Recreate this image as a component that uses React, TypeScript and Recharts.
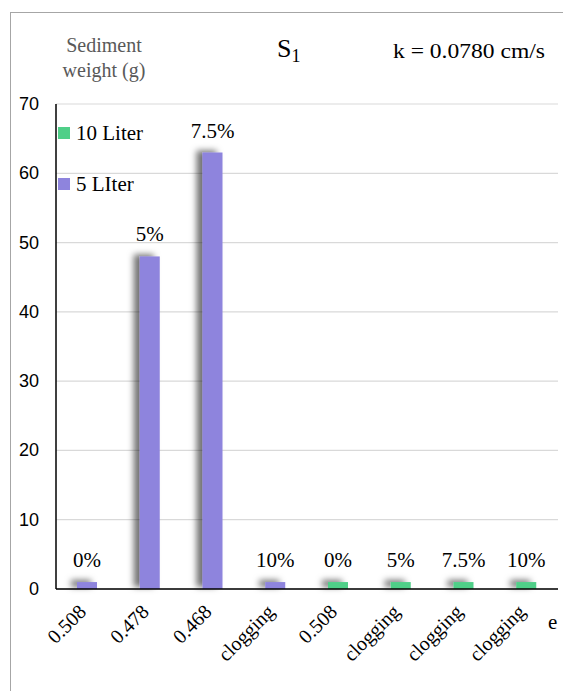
import React from 'react';
import { BarChart, Bar, XAxis, YAxis, CartesianGrid, LabelList, Legend } from 'recharts';

const categories = ['0.508', '0.478', '0.468', 'clogging', '0.508', 'clogging', 'clogging', 'clogging'];
const liter10 = [0, 0, 0, 0, 1, 1, 1, 1];
const liter5 = [1, 48, 63, 1, 0, 0, 0, 0];
const percentLabels = ['0%', '5%', '7.5%', '10%', '0%', '5%', '7.5%', '10%'];
const yTicks = [0, 10, 20, 30, 40, 50, 60, 70];
const seriesNames = ['10 Liter', '5 LIter'];

const GREEN = '#4FCF88';
const PURPLE = '#8E84DD';
const SERIF = '"Liberation Serif", "Times New Roman", serif';
const SANS = '"Liberation Sans", Arial, sans-serif';

const data = categories.map((c, i) => ({
  idx: i,
  cat: c,
  l10: liter10[i],
  l5: liter5[i],
  lab10: liter10[i] > 0 ? percentLabels[i] : '',
  lab5: liter5[i] > 0 ? percentLabels[i] : '',
}));

const BarShape = (props: any) => {
  const { x, y, width, height, fill } = props;
  if (!height || height <= 0) return null;
  return <rect x={x} y={y} width={width} height={height} fill={fill} filter="url(#barShadow)" />;
};

const BarLabel = (props: any) => {
  const { x, y, width, value } = props;
  if (!value) return null;
  return (
    <text x={x + width / 2} y={y - 15} textAnchor="middle" fontSize={21} fontFamily={SERIF} fill="#000">
      {value}
    </text>
  );
};

const XTick = (props: any) => {
  const { x, y, payload } = props;
  return (
    <g transform={`translate(${x},${y + 16})`}>
      <text x={0} y={0} textAnchor="end" transform="rotate(-45)" fontSize={20} fontFamily={SERIF} fill="#000">
        {categories[payload.value]}
      </text>
    </g>
  );
};

const YTick = (props: any) => {
  const { y, payload } = props;
  return (
    <text x={39} y={y + 6} textAnchor="end" fontSize={18} fontFamily={SANS} fill="#000">
      {payload.value}
    </text>
  );
};

const LegendContent = (props: any) => {
  const payload = props.payload || [];
  return (
    <div style={{ position: 'relative', height: 0 }}>
      {payload.map((p: any, i: number) => (
        <div key={i} style={{ position: 'absolute', left: 58, top: 126 + i * 51, display: 'flex', alignItems: 'center', whiteSpace: 'nowrap' }}>
          <span style={{ display: 'inline-block', width: 12, height: 12, background: p.color, marginRight: 6 }} />
          <span style={{ fontFamily: SERIF, fontSize: 21, lineHeight: '14px', color: '#000' }}>{p.value}</span>
        </div>
      ))}
    </div>
  );
};

export default function App() {
  return (
    <div style={{ position: 'absolute', left: 0, top: 0, width: 563, height: 691, background: '#fff', overflow: 'hidden' }}>
      <svg width={0} height={0} style={{ position: 'absolute' }}>
        <defs>
          <filter id="barShadow" x="-100%" y="-300%" width="300%" height="700%">
            <feDropShadow dx={-6} dy={-2} stdDeviation={3} floodColor="#000" floodOpacity={0.55} />
          </filter>
        </defs>
      </svg>
      <div style={{ position: 'absolute', left: 10, top: 12, width: 560, height: 690, borderLeft: '1.5px solid #a6a6a6', borderTop: '1.5px solid #a6a6a6' }} />
      <div style={{ position: 'absolute', left: 0, top: 0 }}>
        <BarChart width={563} height={691} data={data} margin={{ top: 104, right: 5, bottom: 0, left: 10 }} barSize={20}>
          <CartesianGrid horizontal vertical={false} stroke="#d9d9d9" strokeWidth={1.2} />
          <XAxis dataKey="idx" type="category" height={102} axisLine={{ stroke: '#000', strokeWidth: 1.5 }} tickLine={false} tick={<XTick />} interval={0} />
          <YAxis domain={[0, 70]} ticks={yTicks} width={46} axisLine={{ stroke: '#000', strokeWidth: 1.5 }} tickLine={false} tick={<YTick />} interval={0} />
          <Legend content={<LegendContent />} wrapperStyle={{ left: 0, top: 0, width: 563, height: 0 }} />
          <Bar dataKey="l10" name={seriesNames[0]} stackId="s" fill={GREEN} isAnimationActive={false} shape={<BarShape />}>
            <LabelList dataKey="lab10" content={<BarLabel />} />
          </Bar>
          <Bar dataKey="l5" name={seriesNames[1]} stackId="s" fill={PURPLE} isAnimationActive={false} shape={<BarShape />}>
            <LabelList dataKey="lab5" content={<BarLabel />} />
          </Bar>
        </BarChart>
      </div>
      <svg width={563} height={691} style={{ position: 'absolute', left: 0, top: 0, pointerEvents: 'none' }}>
        <text x={104} y={52} textAnchor="middle" fontSize={20} fontFamily={SERIF} fill="#595959">Sediment</text>
        <text x={104} y={77} textAnchor="middle" fontSize={20} fontFamily={SERIF} fill="#595959">weight (g)</text>
        <text x={277} y={57} fontSize={26} fontFamily={SERIF} fill="#000">
          S<tspan fontSize={18} dy={5}>1</tspan>
        </text>
        <text x={393} y={58} fontSize={20} fontFamily={SERIF} fill="#000" textLength={152} lengthAdjust="spacingAndGlyphs">k = 0.0780 cm/s</text>
        <text x={548} y={629} fontSize={21} fontFamily={SERIF} fill="#000">e</text>
      </svg>
    </div>
  );
}
